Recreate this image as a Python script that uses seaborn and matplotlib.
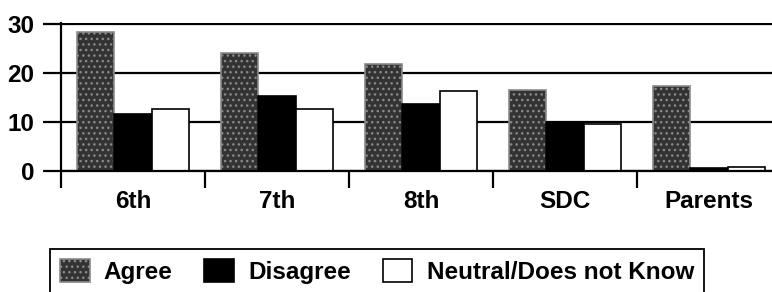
import numpy as np
import pandas as pd
import matplotlib
matplotlib.use('Agg')
import matplotlib.pyplot as plt
import seaborn as sns

# survey groups and share of answers (%)
groups = ['6th', '7th', '8th', 'SDC', 'Parents']
responses = ['Agree', 'Disagree', 'Neutral/Does not Know']
agree = [28.4, 24.1, 21.9, 16.6, 17.3]
disagree = [11.6, 15.4, 13.6, 9.9, 0.7]
neutral = [12.7, 12.6, 16.4, 9.5, 0.8]
yticks = [0, 10, 20, 30]

df = pd.DataFrame({
    'group': groups * 3,
    'response': np.repeat(responses, len(groups)),
    'value': agree + disagree + neutral,
})

sns.set_theme(style='white')
plt.rcParams['font.family'] = ['Liberation Sans', 'DejaVu Sans']
plt.rcParams['font.weight'] = 'bold'
plt.rcParams['text.color'] = 'black'
plt.rcParams['xtick.color'] = 'black'
plt.rcParams['ytick.color'] = 'black'
plt.rcParams['hatch.linewidth'] = 1.0

fig = plt.figure(figsize=(7.72, 2.92), dpi=100)
ax = fig.add_axes([61 / 772, 1 - 171 / 292, 720 / 772, 148.5 / 292])

palette = {'Agree': '#333333', 'Disagree': 'black', 'Neutral/Does not Know': 'white'}
sns.barplot(data=df, x='group', y='value', hue='response', hue_order=responses,
            palette=palette, width=0.78, saturation=1, edgecolor='black',
            linewidth=1.2, errorbar=None, ax=ax)

# speckled look for the "Agree" bars
for bar in ax.containers[0]:
    bar.set_hatch('...')
    bar.set_edgecolor('#8a8a8a')

ax.set_xlim(-0.5, 4.5)
ax.set_ylim(0, 30.3)
ax.set_yticks(yticks)
ax.set_xlabel('')
ax.set_ylabel('')
ax.yaxis.grid(True, color='black', linewidth=1.6)
ax.set_axisbelow(True)

for s in ['top', 'right']:
    ax.spines[s].set_visible(False)
for s in ['left', 'bottom']:
    ax.spines[s].set_color('black')
    ax.spines[s].set_linewidth(1.6)

ax.tick_params(axis='y', left=True, length=13, width=1.6, pad=6, labelsize=17.5)
ax.tick_params(axis='x', which='major', bottom=True, length=0, pad=14, labelsize=17.5)
ax.set_xticks(np.arange(-0.5, len(groups), 1), minor=True)
ax.tick_params(axis='x', which='minor', bottom=True, length=12, width=1.6, direction='out')

handles, labels = ax.get_legend_handles_labels()
ax.get_legend().remove()
handles[0].set_hatch('...')
handles[0].set_edgecolor('#8a8a8a')
leg = fig.legend(handles, labels, loc='upper left', bbox_to_anchor=(50 / 772, 1 - 249 / 292),
                 ncol=3, frameon=True, fancybox=False, edgecolor='black', framealpha=1,
                 fontsize=17.5, handlelength=1.23, handleheight=1.1, handletextpad=0.58,
                 columnspacing=1.3, borderpad=0.4, borderaxespad=0)
leg.get_frame().set_linewidth(1.3)

fig.savefig('out.png', dpi=100)
